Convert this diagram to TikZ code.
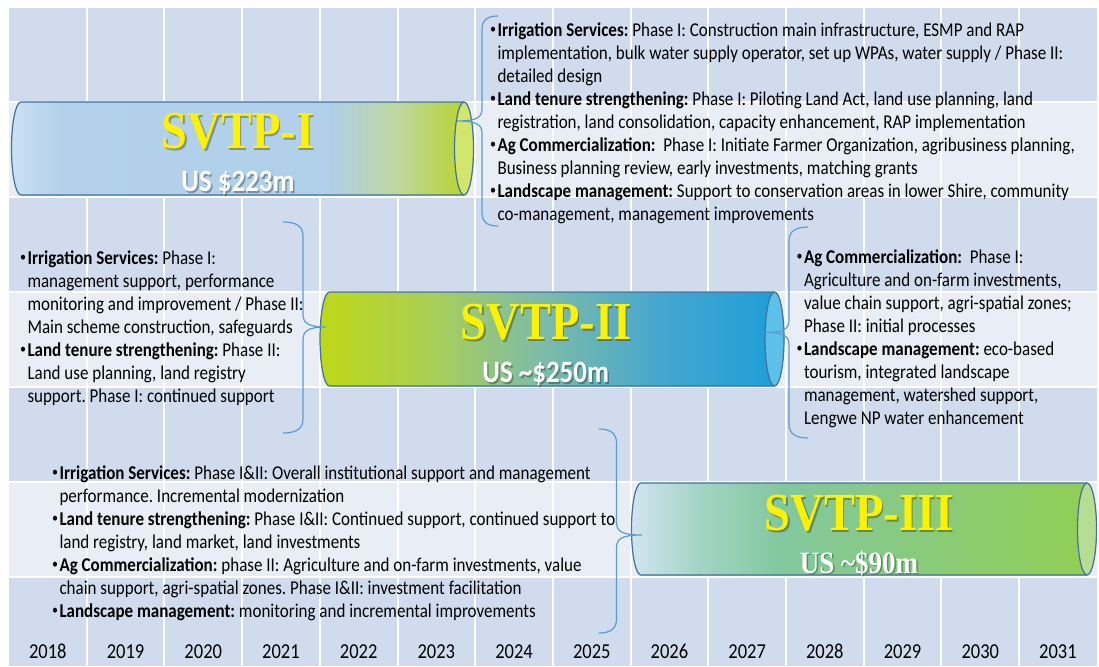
\documentclass[tikz,border=0pt]{standalone}
\usepackage{fontspec}
\usepackage{xcolor}
\setmainfont{Carlito}
\newfontfamily\titlefont{Liberation Serif}
\definecolor{celldark}{HTML}{D0DCEE}
\definecolor{celllight}{HTML}{E9EEF6}
\definecolor{braceblue}{HTML}{5B9BD5}
\definecolor{rimblue}{HTML}{41719C}
\newcommand{\svbul}{\makebox[7.3pt][l]{\fontsize{12}{12}\selectfont\raisebox{2.3pt}{•}}}
\newcommand{\svind}{\hspace*{7.3pt}}
\frenchspacing

\begin{document}
\begin{tikzpicture}[x=1pt, y=-0.8696pt, yscale=1.15,
  every node/.style={transform shape},
  bodytext/.style={font=\fontsize{17}{20}\selectfont, align=left, inner sep=0pt, anchor=north west},
  yeartext/.style={font=\fontsize{18.5}{20}\selectfont, inner sep=0pt, anchor=base},
  titletext/.style={font=\fontsize{46.5}{50}\selectfont\titlefont\bfseries, text=yellow, inner sep=0pt, anchor=base},
  costtext/.style={font=\fontsize{27}{30}\selectfont\bfseries, text=white, inner sep=0pt, anchor=base},
  shadowtext/.style={text=black, opacity=0.3},
  gridline/.style={white, line width=2pt},
  rim/.style={draw=rimblue, line width=1.2pt},
  svbrace/.style={draw=braceblue, line width=1.2pt}]
  \useasboundingbox (0,0) rectangle (1099,666);
  \fill[white] (0,0) rectangle (1099,666);
  % table background
  \fill[celldark] (9,8) rectangle (1097,666);
  \fill[celllight] (9,101.5) rectangle (1097,196.5);
  \fill[celllight] (9,292) rectangle (1097,386.5);
  \fill[celllight] (9,482) rectangle (1097,576.5);
  \draw[gridline] (9,101.5) -- (1097,101.5);
  \draw[gridline] (9,196.5) -- (1097,196.5);
  \draw[gridline] (9,292) -- (1097,292);
  \draw[gridline] (9,386.5) -- (1097,386.5);
  \draw[gridline] (9,482) -- (1097,482);
  \draw[gridline] (9,576.5) -- (1097,576.5);
  \draw[gridline] (86.7,8) -- (86.7,666);
  \draw[gridline] (164.4,8) -- (164.4,666);
  \draw[gridline] (242.1,8) -- (242.1,666);
  \draw[gridline] (319.8,8) -- (319.8,666);
  \draw[gridline] (397.5,8) -- (397.5,666);
  \draw[gridline] (475.2,8) -- (475.2,666);
  \draw[gridline] (552.9,8) -- (552.9,666);
  \draw[gridline] (630.6,8) -- (630.6,666);
  \draw[gridline] (708.3,8) -- (708.3,666);
  \draw[gridline] (786,8) -- (786,666);
  \draw[gridline] (863.7,8) -- (863.7,666);
  \draw[gridline] (941.4,8) -- (941.4,666);
  \draw[gridline] (1019.1,8) -- (1019.1,666);

  % years
  \node[yeartext] (y2018) at (47.85,658) {2018};
  \node[yeartext] (y2019) at (125.55,658) {2019};
  \node[yeartext] (y2020) at (203.25,658) {2020};
  \node[yeartext] (y2021) at (280.95,658) {2021};
  \node[yeartext] (y2022) at (358.65,658) {2022};
  \node[yeartext] (y2023) at (436.35,658) {2023};
  \node[yeartext] (y2024) at (514.05,658) {2024};
  \node[yeartext] (y2025) at (591.75,658) {2025};
  \node[yeartext] (y2026) at (669.45,658) {2026};
  \node[yeartext] (y2027) at (747.15,658) {2027};
  \node[yeartext] (y2028) at (824.85,658) {2028};
  \node[yeartext] (y2029) at (902.55,658) {2029};
  \node[yeartext] (y2030) at (980.25,658) {2030};
  \node[yeartext] (y2031) at (1057.95,658) {2031};

  % SVTP-I cylinder
  \begin{scope}
    \clip (464,102) -- (21,102) arc[start angle=-90, end angle=-270, x radius=9.5, y radius=46.5]
      -- (464,195) arc[start angle=90, end angle=-90, x radius=9.5, y radius=46.5] -- cycle;
    \fill[left color={rgb,255:red,204;green,224;blue,242}, right color={rgb,255:red,179;green,209;blue,234}] (10,100) rectangle (60.5,197);
    \fill[left color={rgb,255:red,179;green,209;blue,234}, right color={rgb,255:red,176;green,207;blue,232}] (60,100) rectangle (330.5,197);
    \fill[left color={rgb,255:red,176;green,207;blue,232}, right color={rgb,255:red,190;green,215;blue,154}] (330,100) rectangle (400.5,197);
    \fill[left color={rgb,255:red,190;green,215;blue,154}, right color={rgb,255:red,184;green,211;blue,30}] (400,100) rectangle (475,197);
  \end{scope}
  \draw[rim] (464,102) -- (21,102) arc[start angle=-90, end angle=-270, x radius=9.5, y radius=46.5] -- (464,195);
  \draw[rim, fill={rgb,255:red,211;green,230;blue,108}] (464,148.5) ellipse[x radius=9.5, y radius=46.5];

  % SVTP-II cylinder
  \begin{scope}
    \clip (774.5,292) -- (329.5,292) arc[start angle=-90, end angle=-270, x radius=9.5, y radius=47]
      -- (774.5,386) arc[start angle=90, end angle=-90, x radius=9.5, y radius=47] -- cycle;
    \fill[left color={rgb,255:red,190;green,216;blue,22}, right color={rgb,255:red,170;green,207;blue,85}] (318,290) rectangle (430.5,388);
    \fill[left color={rgb,255:red,170;green,207;blue,85}, right color={rgb,255:red,126;green,188;blue,168}] (430,290) rectangle (540.5,388);
    \fill[left color={rgb,255:red,126;green,188;blue,168}, right color={rgb,255:red,70;green,166;blue,207}] (540,290) rectangle (660.5,388);
    \fill[left color={rgb,255:red,70;green,166;blue,207}, right color={rgb,255:red,27;green,158;blue,217}] (660,290) rectangle (786,388);
  \end{scope}
  \draw[rim] (774.5,292) -- (329.5,292) arc[start angle=-90, end angle=-270, x radius=9.5, y radius=47] -- (774.5,386);
  \draw[rim, fill={rgb,255:red,92;green,192;blue,232}] (774.5,339) ellipse[x radius=9.5, y radius=47];

  % SVTP-III cylinder
  \begin{scope}
    \clip (1087,483) -- (641,483) arc[start angle=-90, end angle=-270, x radius=9.5, y radius=46]
      -- (1087,575) arc[start angle=90, end angle=-90, x radius=9.5, y radius=46] -- cycle;
    \fill[left color={rgb,255:red,211;green,228;blue,240}, right color={rgb,255:red,162;green,212;blue,196}] (630,481) rectangle (700.5,577);
    \fill[left color={rgb,255:red,162;green,212;blue,196}, right color={rgb,255:red,130;green,200;blue,158}] (700,481) rectangle (780.5,577);
    \fill[left color={rgb,255:red,130;green,200;blue,158}, right color={rgb,255:red,136;green,202;blue,128}] (780,481) rectangle (900.5,577);
    \fill[left color={rgb,255:red,136;green,202;blue,128}, right color={rgb,255:red,145;green,207;blue,82}] (900,481) rectangle (1098,577);
  \end{scope}
  \draw[rim] (1087,483) -- (641,483) arc[start angle=-90, end angle=-270, x radius=9.5, y radius=46] -- (1087,575);
  \draw[rim, fill={rgb,255:red,181;green,222;blue,147}] (1087,529) ellipse[x radius=9.5, y radius=46];

  % titles
  \node[titletext, shadowtext] (oneshadow) at (239.5,150.3) {SVTP-I};
  \node[titletext] (onetitle) at (238,148.3) {SVTP-I};
  \node[costtext, shadowtext] (onecostshadow) at (239.5,193.5) {US \$223m};
  \node[costtext] (onecost) at (238,191.7) {US \$223m};
  \node[titletext, shadowtext] (twoshadow) at (547.5,341.3) {SVTP-II};
  \node[titletext] (twotitle) at (546,339.3) {SVTP-II};
  \node[costtext, shadowtext] (twocostshadow) at (547.2,384.5) {US \textasciitilde\$250m};
  \node[costtext] (twocost) at (545.7,382.7) {US \textasciitilde\$250m};
  \node[titletext, shadowtext] (threeshadow) at (860.5,532.7) {SVTP-III};
  \node[titletext] (threetitle) at (859,530.7) {SVTP-III};
  \node[costtext, shadowtext, font=\fontsize{27}{30}\selectfont\titlefont\bfseries] (threecostshadow) at (860.5,574.8) {US \textasciitilde\$90m};
  \node[costtext, font=\fontsize{27}{30}\selectfont\titlefont\bfseries] (threecost) at (859,573) {US \textasciitilde\$90m};

  % braces
  \draw[svbrace] (498,16) .. controls (487,16) and (482,20) .. (482,30) -- (482,108)
    .. controls (482,117) and (478,121) .. (457,121)
    .. controls (478,121) and (482,125) .. (482,134) -- (482,212)
    .. controls (482,222) and (487,226) .. (498,226);
  \draw[svbrace] (283,222) .. controls (296,222) and (303,226) .. (303,236) -- (303,314)
    .. controls (303,323) and (308,327) .. (326,327)
    .. controls (308,327) and (303,331) .. (303,340) -- (303,419)
    .. controls (303,429) and (296,433) .. (283,433);
  \draw[svbrace] (808,227) .. controls (796,227) and (789,231) .. (789,241) -- (789,320)
    .. controls (789,329) and (784,332.5) .. (766,332.5)
    .. controls (784,332.5) and (789,336) .. (789,345) -- (789,424)
    .. controls (789,434) and (796,438) .. (808,438);
  \draw[svbrace] (599,429) .. controls (610,429) and (616.5,433) .. (616.5,443) -- (616.5,522)
    .. controls (616.5,531) and (621,535) .. (642,535)
    .. controls (621,535) and (616.5,539) .. (616.5,548) -- (616.5,619)
    .. controls (616.5,629) and (610,633) .. (599,633);

  % activity texts
  \node[bodytext] (oneacts) at (490,22.6) {\svbul\textbf{Irrigation Services:} Phase I: Construction main infrastructure, ESMP and RAP\\
    \svind implementation, bulk water supply operator, set up WPAs, water supply / Phase II:\\
    \svind detailed design\\
    \svbul\textbf{Land tenure strengthening:} Phase I: Piloting Land Act, land use planning, land\\
    \svind registration, land consolidation, capacity enhancement, RAP implementation\\
    \svbul\textbf{Ag Commercialization:}\ \ Phase I: Initiate Farmer Organization, agribusiness planning,\\
    \svind Business planning review, early investments, matching grants\\
    \svbul\textbf{Landscape management:} Support to conservation areas in lower Shire, community\\
    \svind co-management, management improvements};
  \node[bodytext] (twoactsleft) at (20,250.6) {\svbul\textbf{Irrigation Services:} Phase I:\\
    \svind management support, performance\\
    \svind monitoring and improvement / Phase II:\\
    \svind Main scheme construction, safeguards\\
    \svbul\textbf{Land tenure strengthening:} Phase II:\\
    \svind Land use planning, land registry\\
    \svind support. Phase I: continued support};
  \node[bodytext] (twoactsright) at (796.5,249.6) {\svbul\textbf{Ag Commercialization:}\ \ Phase I:\\
    \svind Agriculture and on-farm investments,\\
    \svind value chain support, agri-spatial zones;\\
    \svind Phase II: initial processes\\
    \svbul\textbf{Landscape management:} eco-based\\
    \svind tourism, integrated landscape\\
    \svind management, watershed support,\\
    \svind Lengwe NP water enhancement};
  \node[bodytext] (threeacts) at (52,465.6) {\svbul\textbf{Irrigation Services:} Phase I\&II: Overall institutional support and management\\
    \svind performance. Incremental modernization\\
    \svbul\textbf{Land tenure strengthening:} Phase I\&II: Continued support, continued support to\\
    \svind land registry, land market, land investments\\
    \svbul\textbf{Ag Commercialization:} phase II: Agriculture and on-farm investments, value\\
    \svind chain support, agri-spatial zones. Phase I\&II: investment facilitation\\
    \svbul\textbf{Landscape management:} monitoring and incremental improvements};
\end{tikzpicture}
\end{document}
